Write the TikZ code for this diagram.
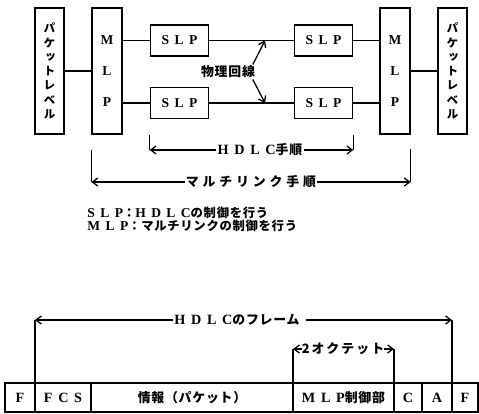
\documentclass[tikz,border=0pt]{standalone}
\usepackage{fontspec}
\setmainfont{Noto Sans CJK JP}[LetterSpace=6]
\newfontfamily\latn[LetterSpace=40, Scale=1.1]{Liberation Serif}
\newfontfamily\jsp[LetterSpace=30]{Noto Sans CJK JP}
\newfontfamily\jmid[LetterSpace=16]{Noto Sans CJK JP}
\newfontfamily\jvert[RawFeature=+vert]{Noto Sans CJK JP}
\usetikzlibrary{arrows.meta, positioning, calc}

\begin{document}
\begin{tikzpicture}[x=0.03cm, y=-0.03cm,
  lvlbox/.style={draw, line width=1.1pt, minimum width=0.87cm, minimum height=3.78cm,
                 inner sep=0pt, align=center, font=\jvert\bfseries\fontsize{10}{12.2}\selectfont},
  mlpbox/.style={draw, line width=1.1pt, minimum width=0.9cm, minimum height=3.78cm,
                 inner sep=0pt, align=center, font=\latn\bfseries\fontsize{10.5}{26.5}\selectfont},
  slpbox/.style={draw, line width=1.1pt, minimum width=1.75cm, minimum height=0.93cm,
                 inner sep=0pt, font=\latn\bfseries\fontsize{10.5}{13}\selectfont},
  cell/.style={draw, line width=1.1pt, minimum height=0.87cm, inner sep=0pt, outer sep=0pt,
               font=\bfseries\fontsize{11}{13}\selectfont},
  lnk/.style={line width=1.1pt},
  arr/.style={-{Straight Barb[length=1.6mm,width=2.4mm]}, line width=1.1pt},
  lbl/.style={font=\bfseries\fontsize{11}{13}\selectfont, inner sep=1pt}
]
\useasboundingbox (0,0) rectangle (479,413);
% protocol stack (top)
\node[lvlbox] (pktL) at (49.5,71) {パ\\ケ\\ッ\\ト\\レ\\ベ\\ル};
\node[mlpbox] (mlpL) at (107,71) {M\\L\\P};
\node[slpbox] (slpLA) at (179.5,40.5) {SLP};
\node[slpbox] (slpLB) at (179.5,103) {SLP};
\node[slpbox] (slpRA) at (323.5,40.5) {SLP};
\node[slpbox] (slpRB) at (323.5,103) {SLP};
\node[mlpbox] (mlpR) at (395,71) {M\\L\\P};
\node[lvlbox] (pktR) at (452.5,71) {パ\\ケ\\ッ\\ト\\レ\\ベ\\ル};
\draw[lnk] (pktL) -- (mlpL);
\draw[lnk] (mlpR) -- (pktR);
\draw[lnk] (slpLA.west -| mlpL.east) -- (slpLA.west);
\draw[lnk] (slpLB.west -| mlpL.east) -- (slpLB.west);
\draw[lnk] (slpRA.east) -- (slpRA.east -| mlpR.west);
\draw[lnk] (slpRB.east) -- (slpRB.east -| mlpR.west);
\draw[lnk] (slpLA) -- (slpRA);
\draw[lnk] (slpLB) -- (slpRB);
% physical lines
\node[lbl] (phys) at (228,72) {物理回線};
\coordinate (lnA) at ($(slpLA.east)!0.66!(slpRA.west)$);
\coordinate (lnB) at ($(slpLB.east)!0.66!(slpRB.west)$);
\draw[arr] ([xshift=-3pt]phys.north east) -- (lnA);
\draw[arr] ([xshift=-3pt]phys.south east) -- (lnB);
% procedure ranges
\node[lbl] (hdp) at (260,150) {{\latn HDLC}手順};
\draw[arr] (hdp.west) -- (slpLB.west |- hdp);
\draw[lnk] (slpLB.west |- hdp) -- ++(0,-15);
\draw[arr] (hdp.east) -- (slpRB.east |- hdp);
\draw[lnk] (slpRB.east |- hdp) -- ++(0,-15);
\node[lbl] (mlk) at (251,182) {\jsp マルチリンク手順};
\draw[arr] (mlk.west) -- (mlpL.west |- mlk);
\draw[lnk] (mlpL.west |- mlk) -- ++(0,-32);
\draw[arr] (mlk.east) -- (mlpR.east |- mlk);
\draw[lnk] (mlpR.east |- mlk) -- ++(0,-33);
% legend
\node[lbl, anchor=west, font=\bfseries\fontsize{10.5}{12}\selectfont] (lgd1) at (86,213)
     {{\latn SLP}：{\latn HDLC}の制御を行う};
\node[lbl, anchor=west, font=\bfseries\fontsize{10.5}{12}\selectfont] (lgd2) at (86,226)
     {{\latn MLP}：マルチリンクの制御を行う};
% HDLC frame (bottom)
\node[cell, minimum width=0.9cm, anchor=north west] (fL) at (5,383) {\latn F};
\node[cell, minimum width=1.68cm, right=0pt of fL] (fcs) {\latn FCS};
\node[cell, minimum width=6.06cm, right=0pt of fcs] (info) {情報（パケット）};
\node[cell, minimum width=3.03cm, right=0pt of info] (mlpc) {{\latn MLP}制御部};
\node[cell, minimum width=0.84cm, right=0pt of mlpc] (fC) {\latn C};
\node[cell, minimum width=0.9cm, right=0pt of fC] (fA) {\latn A};
\node[cell, minimum width=0.78cm, right=0pt of fA] (fR) {\latn F};
\node[lbl] (frm) at (237,320) {{\latn HDLC}のフレーム};
\draw[arr] (frm.west) -- (fL.north east |- frm);
\draw[lnk] (fL.north east) -- (fL.north east |- frm);
\draw[arr] ([xshift=4pt]frm.east) -- (fA.north east |- frm);
\draw[lnk] (fA.north east) -- (fA.north east |- frm);
\node[lbl, inner sep=0pt] (oct) at (343,349) {\jmid 2オクテット};
\draw[arr] (oct.west) -- (mlpc.north west |- oct);
\draw[lnk] (mlpc.north west) -- (mlpc.north west |- oct);
\draw[arr] (oct.east) -- (mlpc.north east |- oct);
\draw[lnk] (mlpc.north east) -- (mlpc.north east |- oct);
\end{tikzpicture}
\end{document}
